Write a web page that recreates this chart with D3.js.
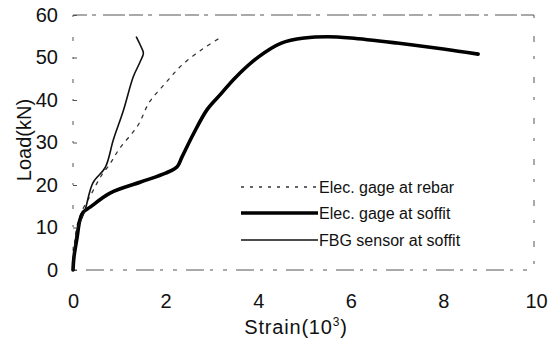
<!DOCTYPE html>
<html><head><meta charset="utf-8">
<script src="https://cdn.jsdelivr.net/npm/d3@7"></script>
<style>body{margin:0;background:#fff}svg{display:block;font-family:"Liberation Sans",Arial,sans-serif}</style>
</head><body><svg id="c" width="558" height="340"></svg>
<script>
const xTicks = [0,2,4,6,8,10];
const yTicks = [0,10,20,30,40,50,60];
const seriesNames = ["Elec. gage at rebar","Elec. gage at soffit","FBG sensor at soffit"];
const rebarStrain = [0,0.03,0.08,0.2,0.4,0.6,0.8,1.0,1.4,1.65,2.0,2.35,2.8,3.2];
const rebarLoad   = [0,5,10,14,18,22,25,28.5,34,39.5,44,48.2,52,54.8];
const soffitStrain = [0,0.02,0.09,0.15,0.22,0.37,0.8,1.46,2.0,2.25,2.35,2.6,2.9,3.2,3.5,4.0,4.5,5.0,5.5,6.0,7.0,8.0,8.75];
const soffitLoad   = [0,3,7.8,11.8,13.6,14.8,18.1,20.7,22.8,24.3,26.5,32,37.8,41.5,45.2,50.1,53.4,54.6,54.9,54.6,53.4,52,50.8];
const fbgStrain = [0,0.03,0.09,0.18,0.26,0.43,0.7,0.87,1.09,1.3,1.45,1.52,1.45,1.37];
const fbgLoad   = [0,5,9.4,12,14.1,20.5,24.2,30.6,37.6,45.4,49,51,53,54.8];

const svg = d3.select("#c");
const x = d3.scaleLinear().domain([0,10]).range([73,536]);
const y = d3.scaleLinear().domain([0,60]).range([270,15]);

// frame (scanned, broken look)
const frame = svg.append("g").attr("stroke","#555").attr("fill","none").attr("stroke-width",1);
frame.append("line").attr("x1",x(0)).attr("x2",x(10)-2).attr("y1",y(60)).attr("y2",y(60)).attr("stroke-dasharray","14,5,4,7,22,4");
frame.append("line").attr("x1",x(10)-2).attr("x2",x(10)-2).attr("y1",y(60)).attr("y2",y(0)).attr("stroke-dasharray","3,18,6,14");
frame.append("line").attr("x1",x(0)).attr("x2",x(10)-2).attr("y1",y(0)).attr("y2",y(0)).attr("stroke-dasharray","4,9,18,6,3,10");
frame.append("line").attr("x1",x(0)).attr("x2",x(0)).attr("y1",y(60)).attr("y2",y(0)).attr("stroke-dasharray","2,20,4,16");

// axes
const yAxis = d3.axisLeft(y).tickValues(yTicks).tickSize(-4).tickPadding(15).tickFormat(d3.format("d"));
const gy = svg.append("g").attr("transform",`translate(${x(0)},0)`).call(yAxis);
gy.select(".domain").remove();
gy.selectAll(".tick line").attr("stroke","#555");
gy.selectAll("text").attr("font-size",20).attr("fill","#111").attr("font-family","Liberation Sans, Arial");

const xAxis = d3.axisBottom(x).tickValues(xTicks).tickSize(0).tickPadding(24).tickFormat(d3.format("d"));
const gx = svg.append("g").attr("transform",`translate(0,${y(0)})`).call(xAxis);
gx.select(".domain").remove();
gx.selectAll("text").attr("font-size",20).attr("fill","#111").attr("font-family","Liberation Sans, Arial");

// axis titles
const xt = svg.append("text").attr("x",296).attr("y",334).attr("text-anchor","middle").attr("font-size",20).attr("fill","#111").attr("letter-spacing",0.8);
xt.append("tspan").text("Strain(10");
xt.append("tspan").attr("font-size",12).attr("dy",-8).text("3");
xt.append("tspan").attr("dy",8).text(")");
svg.append("text").attr("transform","translate(31,140) rotate(-90)").attr("text-anchor","middle").attr("font-size",20).attr("fill","#111").text("Load(kN)");

const lineC = d3.line().x(d=>x(d[0])).y(d=>y(d[1])).curve(d3.curveCatmullRom);
const rebar = d3.zip(rebarStrain,rebarLoad);
const soffit = d3.zip(soffitStrain,soffitLoad);
const fbg = d3.zip(fbgStrain,fbgLoad);

const styles = [
  {data:rebar, w:1.3, dash:"3,6", color:"#333"},
  {data:soffit, w:3.6, dash:null, color:"#000"},
  {data:fbg, w:1.6, dash:null, color:"#111"}
];
styles.forEach(s=>{
  svg.append("path").attr("d",lineC(s.data)).attr("fill","none").attr("stroke",s.color)
    .attr("stroke-width",s.w).attr("stroke-dasharray",s.dash).attr("stroke-linecap","round").attr("stroke-linejoin","round");
});

// legend
const ly = [187,213,240];
seriesNames.forEach((n,i)=>{
  const s = styles[i];
  svg.append("line").attr("x1",241).attr("x2",318).attr("y1",ly[i]).attr("y2",ly[i])
    .attr("stroke",s.color).attr("stroke-width",s.w).attr("stroke-dasharray",s.dash);
  svg.append("text").attr("x",319).attr("y",ly[i]+6).attr("font-size",16).attr("fill","#111").text(n);
});
</script></body></html>
